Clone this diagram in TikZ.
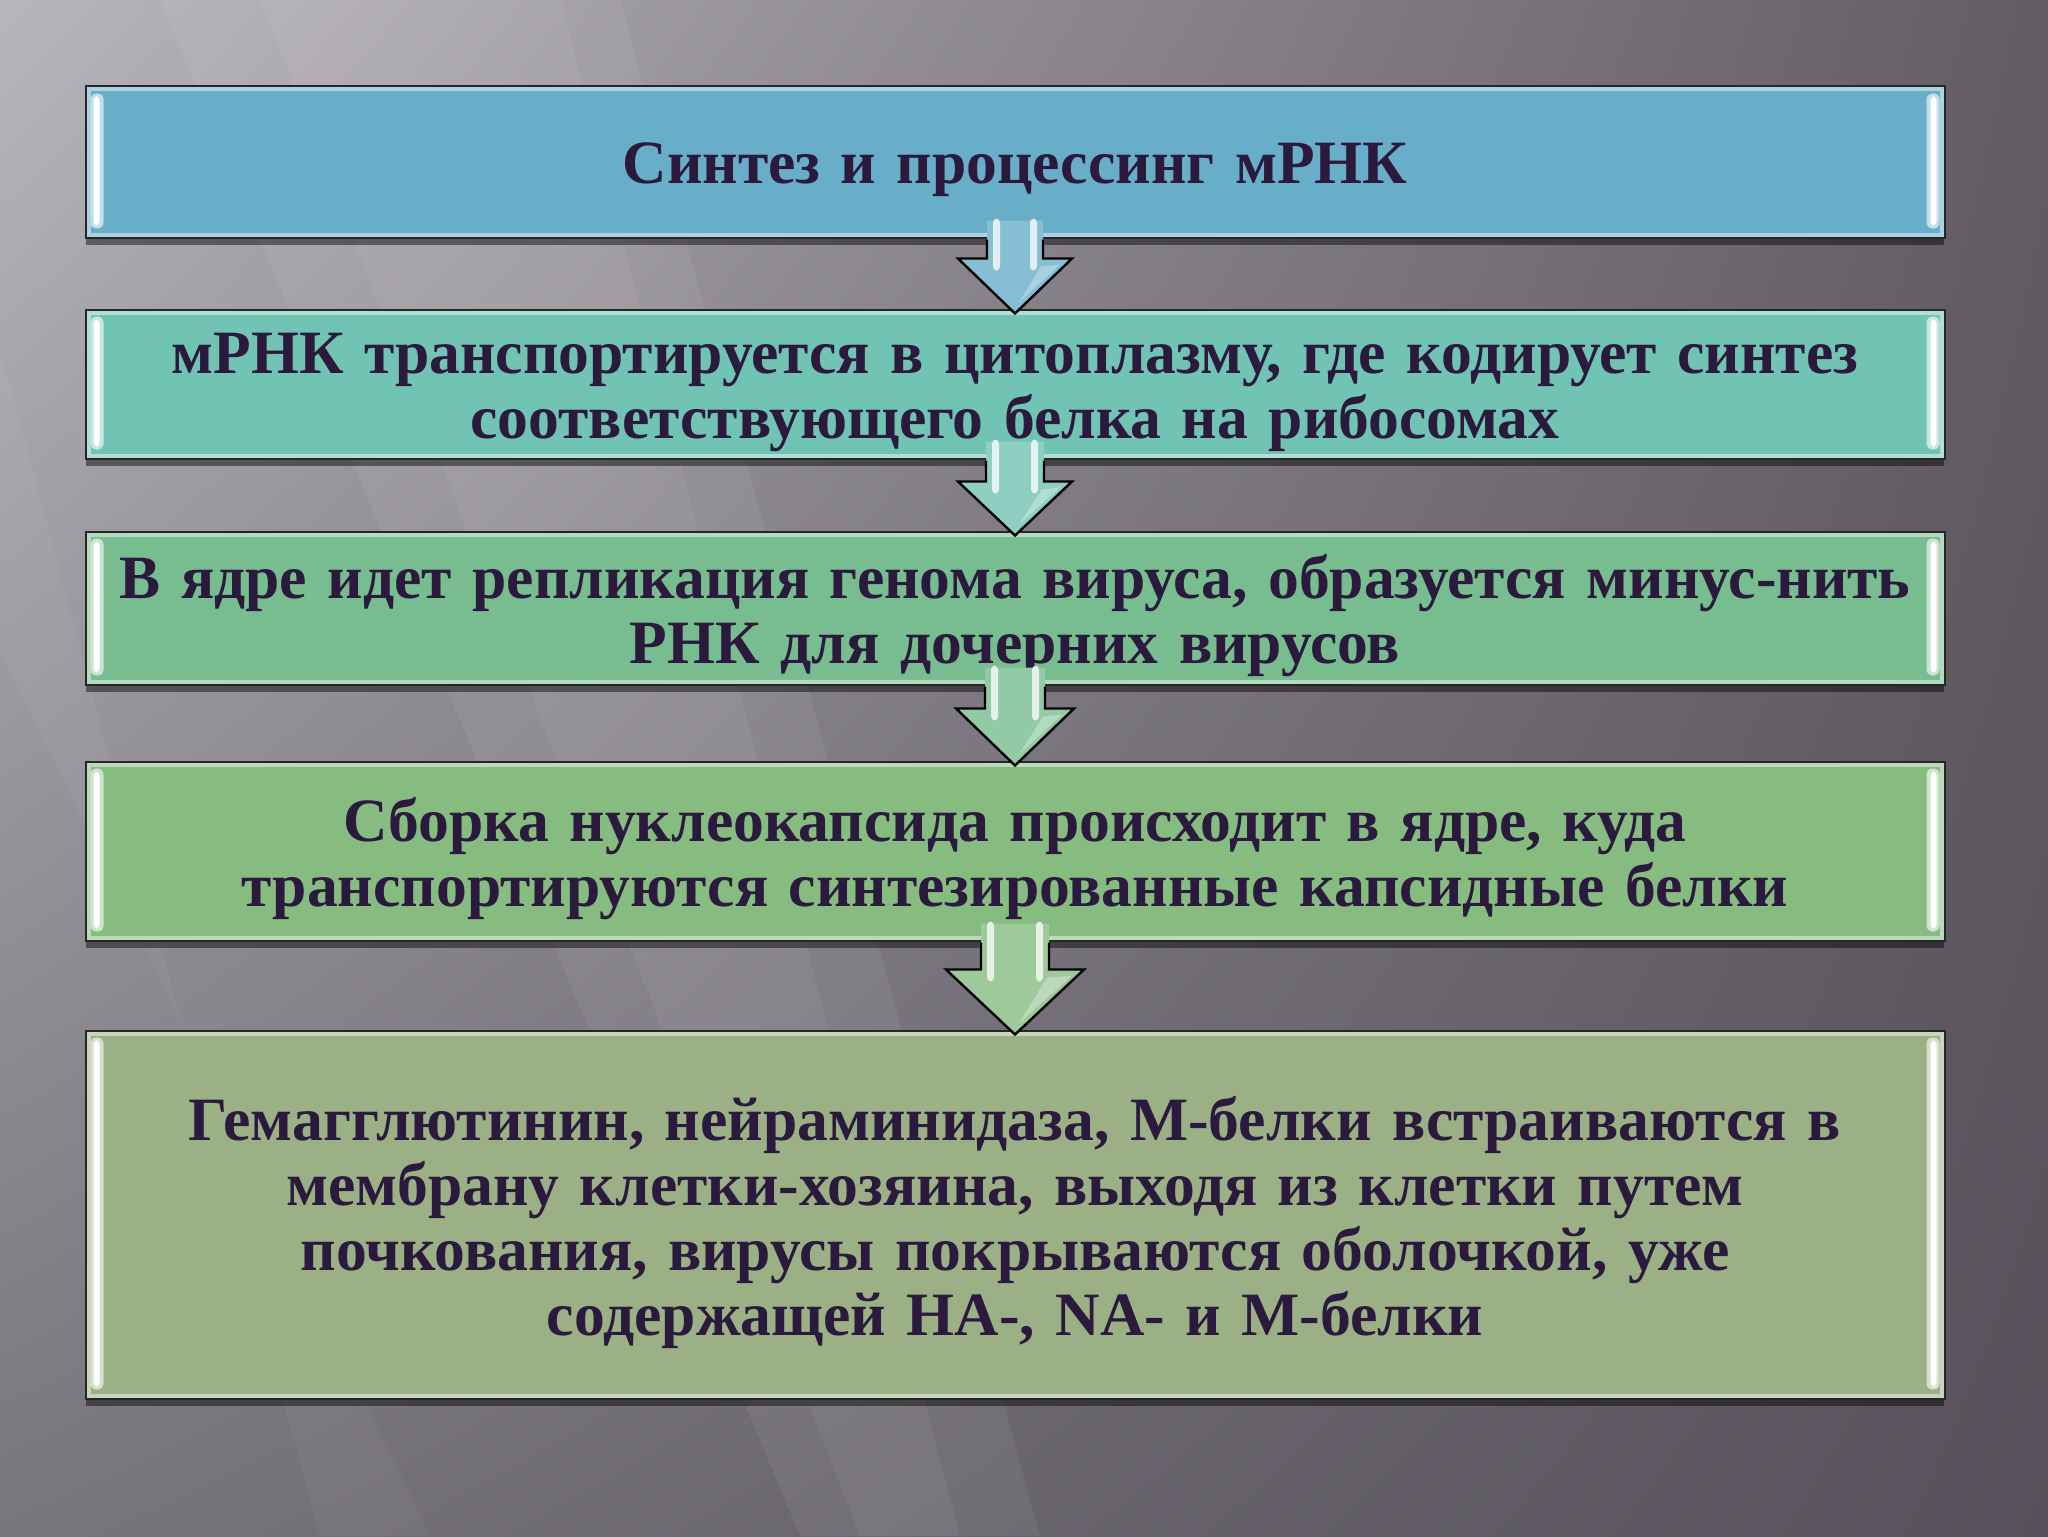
\documentclass[tikz,border=0pt]{standalone}
\usepackage{fontspec}
\setmainfont{Liberation Serif}
\usetikzlibrary{calc,shadows,fadings,shadings}
\definecolor{txt}{HTML}{2C1A3E}
\definecolor{bgTL}{HTML}{B9B5BD}
\definecolor{bgTR}{HTML}{625D64}
\definecolor{bgBL}{HTML}{79757D}
\definecolor{bgBR}{HTML}{56515A}
\definecolor{cA}{HTML}{68AEC8}
\definecolor{cB}{HTML}{71C3B3}
\definecolor{cC}{HTML}{77BD8F}
\definecolor{cD}{HTML}{86BC80}
\definecolor{cE}{HTML}{9CB085}
\tikzset{
  stepbox/.style={draw=black!85, line width=1.5pt, minimum width=929pt,
    inner sep=0pt,
    drop shadow={shadow xshift=0pt, shadow yshift=-4pt, opacity=0.45, fill=black}},
  steptext/.style={text width=920pt, align=center, inner sep=0pt, text=txt,
    font=\fontsize{30.8}{32.5}\selectfont\bfseries, yshift=-4pt},
  arrowline/.style={line width=1.2pt, draw=black, line join=miter}
}
\newcommand{\glossbox}[2]{%
  \draw[#2!55!white, line width=2pt] ($(#1.north west)+(4,4)$) rectangle ($(#1.south east)+(-4,-4)$);
  \fill[#2!40!white, rounded corners=3pt] ($(#1.north west)+(6,8)$) rectangle ($(#1.south west)+(19,-10)$);
  \fill[white, rounded corners=2pt] ($(#1.north west)+(9,11)$) rectangle ($(#1.south west)+(15,-13)$);
  \fill[#2!40!white, rounded corners=3pt] ($(#1.north east)+(-19,8)$) rectangle ($(#1.south east)+(-6,-10)$);
  \fill[white, rounded corners=2pt] ($(#1.north east)+(-15,11)$) rectangle ($(#1.south east)+(-9,-13)$);
}
\newcommand{\blockarrow}[6]{%
  % #1 upper node, #2 lower node, #3 colour, #4 half shaft, #5 half head, #6 head top offset
  \fill[#3] ($(#1.south)+(-#4,-18)$) -- ($(#1.south)+(-#4,#6)$) -- ($(#1.south)+(-#5,#6)$)
     -- ($(#2.north)+(0,5)$) -- ($(#1.south)+(#5,#6)$) -- ($(#1.south)+(#4,#6)$) -- ($(#1.south)+(#4,-18)$) -- cycle;
  \draw[arrowline] ($(#1.south)+(-#4,1)$) -- ($(#1.south)+(-#4,#6)$) -- ($(#1.south)+(-#5,#6)$)
     -- ($(#2.north)+(0,5)$) -- ($(#1.south)+(#5,#6)$) -- ($(#1.south)+(#4,#6)$) -- ($(#1.south)+(#4,1)$);
  \fill[white, opacity=0.75, rounded corners=2pt] ($(#1.south)+(-#4+6,-20)$) rectangle ($(#1.south)+(-#4+13,#6+12)$);
  \fill[white, opacity=0.75, rounded corners=2pt] ($(#1.south)+(#4-13,-20)$) rectangle ($(#1.south)+(#4-6,#6+12)$);
  \fill[white, opacity=0.3] ($(#1.south)+(#4-2,#6+8)$) -- ($(#1.south)+(#5-12,#6+6)$) -- ($(#2.north)+(4,-6)$) -- cycle;
}
\begin{document}
\begin{tikzpicture}[x=0.5pt,y=-0.5pt]
  \useasboundingbox (0,0) rectangle (2048,1536);
  % background
  \shade[upper left=bgTL, upper right=bgTR, lower left=bgBL, lower right=bgBR] (0,0) rectangle (2048,1536);
  \fill[white, opacity=0.06] (160,0) -- (620,0) -- (1040,1536) -- (800,1536) -- cycle;
  \fill[white, opacity=0.05] (260,0) -- (560,0) -- (960,1536) -- (860,1536) -- cycle;
  \fill[white, opacity=0.04] (0,350) -- (0,650) -- (430,1536) -- (320,1536) -- cycle;
  % boxes
  \node[stepbox, fill=cA, minimum height=75pt] (b1) at (1015,162) {};
  \node[stepbox, fill=cB, minimum height=74pt] (b2) at (1015,384) {};
  \node[stepbox, fill=cC, minimum height=76pt] (b3) at (1015,608) {};
  \node[stepbox, fill=cD, minimum height=89pt] (b4) at (1015,851) {};
  \node[stepbox, fill=cE, minimum height=183.5pt] (b5) at (1015,1214.5) {};
  \glossbox{b1}{cA}
  \glossbox{b2}{cB}
  \glossbox{b3}{cC}
  \glossbox{b4}{cD}
  \glossbox{b5}{cE}
  % texts
  \node[steptext] (t1) at (b1) {Синтез и процессинг мРНК};
  \node[steptext] (t2) at (b2) {мРНК транспортируется в цитоплазму, где кодирует синтез\\соответствующего белка на рибосомах};
  \node[steptext] (t3) at (b3) {В ядре идет репликация генома вируса, образуется минус-нить\\РНК для дочерних вирусов};
  \node[steptext] (t4) at (b4) {Сборка нуклеокапсида происходит в ядре, куда\\транспортируются синтезированные капсидные белки};
  \node[steptext] (t5) at (b5) {Гемагглютинин, нейраминидаза, М-белки встраиваются в\\мембрану клетки-хозяина, выходя из клетки путем\\почкования, вирусы покрываются оболочкой, уже\\содержащей НА-, NA- и М-белки};
  % arrows
  \blockarrow{b1}{b2}{cA!80!white}{28}{57}{20}
  \blockarrow{b2}{b3}{cB!80!white}{29}{57}{22}
  \blockarrow{b3}{b4}{cC!80!white}{30}{59}{23}
  \blockarrow{b4}{b5}{cD!80!white}{34}{69}{28}
\end{tikzpicture}
\end{document}
